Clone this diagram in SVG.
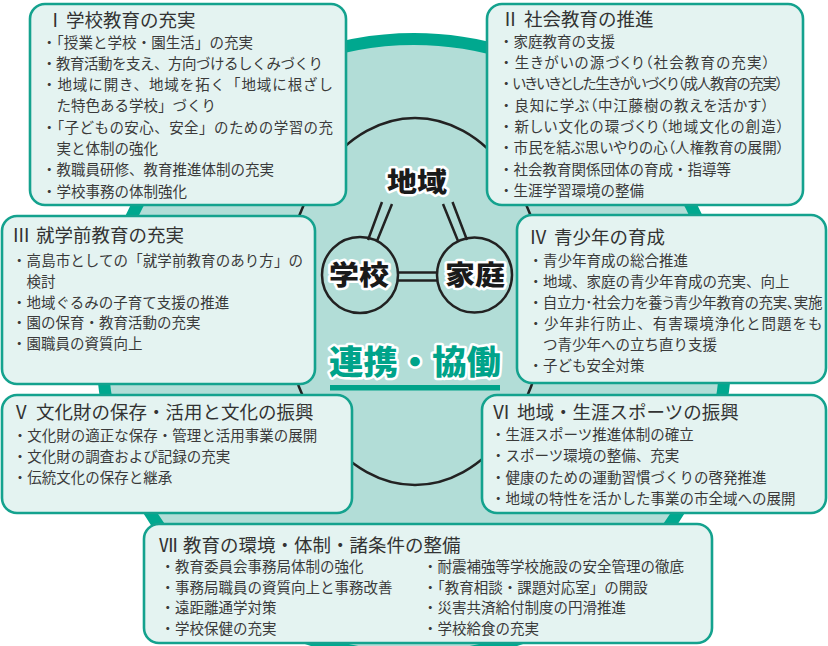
<svg xmlns="http://www.w3.org/2000/svg" width="828" height="646" viewBox="0 0 828 646">
<style>
.bx{fill:#e4f3f1;stroke:#14a28e;stroke-width:2.6}
.t{font-family:"Noto Sans CJK JP","Noto Sans CJK SC",sans-serif;font-size:18.5px;fill:#333}
.i{font-family:"Noto Sans CJK JP","Noto Sans CJK SC",sans-serif;font-size:14.5px;fill:#3a3a3a}
.p{font-feature-settings:"palt"}
.c{font-family:"Noto Sans CJK JP","Noto Sans CJK SC",sans-serif;font-weight:900;font-size:27px;fill:#1a1a1a;stroke:#fff;stroke-width:5;stroke-linejoin:round;paint-order:stroke;text-anchor:middle}
.ln{stroke:#222;stroke-width:2.5;fill:none}
</style>
<rect width="828" height="646" fill="#fff"/>
<g id="background">
<ellipse cx="414" cy="348" rx="312" ry="309" fill="#b2ddd7" stroke="#00a88f" stroke-width="12"/>
<ellipse cx="415" cy="301.5" rx="131" ry="183.5" class="ln"/>
</g>
<g id="connectors">
<path class="ln" d="M382,202 L368,240 M392,204 L377,241 M443,204 L458,241 M452.5,202 L467,240 M397,272.5 H437 M397,280.5 H437"/>
</g>
<g id="node-chiiki"><text class="c" x="417" y="192" textLength="60" lengthAdjust="spacingAndGlyphs">地域</text></g>
<g id="node-gakko"><circle cx="360" cy="275" r="38" class="ln"/><text class="c" x="359" y="285" textLength="60" lengthAdjust="spacingAndGlyphs">学校</text></g>
<g id="node-katei"><circle cx="474.5" cy="275" r="37.5" class="ln"/><text class="c" x="475" y="285" textLength="60" lengthAdjust="spacingAndGlyphs">家庭</text></g>
<g id="label-renkei">
<text x="415" y="374" textLength="172" lengthAdjust="spacingAndGlyphs" style="font-family:'Noto Sans CJK JP','Noto Sans CJK SC',sans-serif;font-weight:900;font-size:33px;fill:#00a38a;stroke:#fff;stroke-width:5;stroke-linejoin:round;paint-order:stroke;text-anchor:middle">連携・協働</text>
<rect x="330" y="385" width="170" height="5.5" fill="#00a38a"/>
</g>
<g id="box1">
<rect class="bx" x="30" y="4" width="316" height="201" rx="15"/>
<text class="t" y="27"><tspan x="46">Ⅰ</tspan><tspan x="66">学校教育の充実</tspan></text>
<text class="i" x="42" y="47.5" textLength="211">・「授業と学校・園生活」の充実</text>
<text class="i" x="42" y="68.8" textLength="281">・教育活動を支え、方向づけるしくみづくり</text>
<text class="i" x="42" y="90.1" textLength="291">・地域に開き、地域を拓く「地域に根ざし</text>
<text class="i" x="56.5" y="111.4">た特色ある学校」づくり</text>
<text class="i" x="42" y="132.7" textLength="291">・「子どもの安心、安全」のための学習の充</text>
<text class="i" x="56.5" y="154">実と体制の強化</text>
<text class="i" x="42" y="175.3">・教職員研修、教育推進体制の充実</text>
<text class="i" x="42" y="196.6">・学校事務の体制強化</text>
</g>
<g id="box2">
<rect class="bx" x="487" y="4" width="316" height="201" rx="15"/>
<text class="t" y="26"><tspan x="501">Ⅱ</tspan><tspan x="524">社会教育の推進</tspan></text>
<text class="i" x="499" y="46.5">・家庭教育の支援</text>
<text class="i" x="499" y="67.9" textLength="271">・<tspan class="p">生きがいの源づくり（社会教育の充実）</tspan></text>
<text class="i" x="499" y="89.2" textLength="284">・<tspan class="p">いきいきとした生きがいづくり（成人教育の充実）</tspan></text>
<text class="i" x="499" y="110.6" textLength="270">・<tspan class="p">良知に学ぶ（中江藤樹の教えを活かす）</tspan></text>
<text class="i" x="499" y="131.9" textLength="285">・<tspan class="p">新しい文化の環づくり（地域文化の創造）</tspan></text>
<text class="i" x="499" y="153.3" textLength="285">・<tspan class="p">市民を結ぶ思いやりの心（人権教育の展開）</tspan></text>
<text class="i" x="499" y="174.7">・社会教育関係団体の育成・指導等</text>
<text class="i" x="499" y="196">・生涯学習環境の整備</text>
</g>
<g id="box3">
<rect class="bx" x="2" y="216" width="313" height="168" rx="15"/>
<text class="t" y="242"><tspan x="12">Ⅲ</tspan><tspan x="36">就学前教育の充実</tspan></text>
<text class="i" x="12" y="266" textLength="291">・高島市としての「就学前教育のあり方」の</text>
<text class="i" x="26.5" y="286.8">検討</text>
<text class="i" x="12" y="307.5">・地域ぐるみの子育て支援の推進</text>
<text class="i" x="12" y="328.3">・園の保育・教育活動の充実</text>
<text class="i" x="12" y="349">・園職員の資質向上</text>
</g>
<g id="box4">
<rect class="bx" x="517" y="215" width="309" height="168" rx="15"/>
<text class="t" y="244"><tspan x="529">Ⅳ</tspan><tspan x="554">青少年の育成</tspan></text>
<text class="i" x="528.5" y="266">・青少年育成の総合推進</text>
<text class="i" x="528.5" y="287">・地域、家庭の青少年育成の充実、向上</text>
<text class="i" x="528.5" y="308" textLength="294">・<tspan class="p">自立力･社会力を養う青少年教育の充実、実施</tspan></text>
<text class="i" x="528.5" y="329" textLength="294">・少年非行防止、有害環境浄化と問題をも</text>
<text class="i" x="543" y="350">つ青少年への立ち直り支援</text>
<text class="i" x="528.5" y="371">・子ども安全対策</text>
</g>
<g id="box5">
<rect class="bx" x="2" y="395" width="350" height="118" rx="15"/>
<text class="t" y="419"><tspan x="12">Ⅴ</tspan><tspan x="36">文化財の保存・活用と文化の振興</tspan></text>
<text class="i" x="12.75" y="441">・文化財の適正な保存・管理と活用事業の展開</text>
<text class="i" x="12.75" y="462">・文化財の調査および記録の充実</text>
<text class="i" x="12.75" y="483">・伝統文化の保存と継承</text>
</g>
<g id="box6">
<rect class="bx" x="482" y="395" width="344" height="118" rx="15"/>
<text class="t" y="418.5"><tspan x="492">Ⅵ</tspan><tspan x="517">地域・生涯スポーツの振興</tspan></text>
<text class="i" x="491" y="440">・生涯スポーツ推進体制の確立</text>
<text class="i" x="491" y="461.3">・スポーツ環境の整備、充実</text>
<text class="i" x="491" y="482.6">・健康のための運動習慣づくりの啓発推進</text>
<text class="i" x="491" y="504">・地域の特性を活かした事業の市全域への展開</text>
</g>
<g id="box7">
<rect class="bx" x="144" y="524" width="568" height="119" rx="15"/>
<text class="t" y="552"><tspan x="159">Ⅶ</tspan><tspan x="183">教育の環境・体制・諸条件の整備</tspan></text>
<text class="i" x="160.5" y="572">・教育委員会事務局体制の強化</text>
<text class="i" x="160.5" y="592.7">・事務局職員の資質向上と事務改善</text>
<text class="i" x="160.5" y="613.3">・遠距離通学対策</text>
<text class="i" x="160.5" y="634">・学校保健の充実</text>
<text class="i" x="423" y="572">・耐震補強等学校施設の安全管理の徹底</text>
<text class="i" x="423" y="592.7">・「教育相談・課題対応室」の開設</text>
<text class="i" x="423" y="613.3">・災害共済給付制度の円滑推進</text>
<text class="i" x="423" y="634">・学校給食の充実</text>
</g>
</svg>
